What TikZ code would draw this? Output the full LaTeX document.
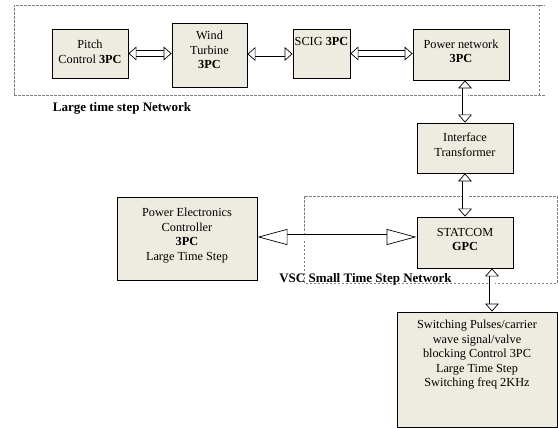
\documentclass[tikz,border=0pt]{standalone}
\usepackage{fontspec}
\setmainfont{Liberation Serif}
\usetikzlibrary{arrows.meta}
\definecolor{boxfill}{HTML}{EEECE1}
\definecolor{dashgray}{HTML}{7F7F7F}
\tikzset{
  blk/.style={draw=black, line width=0.9pt, fill=boxfill, inner sep=0pt},
  txt/.style={align=center, font=\fontsize{12.3}{14.5}\selectfont, inner sep=0pt},
  lbl/.style={font=\fontsize{13}{14}\selectfont\bfseries, inner sep=0pt},
  dsh/.style={draw=dashgray, line width=0.8pt, dash pattern=on 2.5pt off 1.5pt},
  harrow/.style={double=white, draw=black, double distance=5pt, line width=0.7pt,
    {Triangle[fill=white, length=8pt, width=14pt, line width=0.7pt]}-{Triangle[fill=white, length=8pt, width=14pt, line width=0.7pt]}},
  larrow/.style={double=white, draw=black, double distance=5pt, line width=0.7pt,
    {Triangle[fill=white, length=30pt, width=16pt, line width=0.7pt]}-{Triangle[fill=white, length=30pt, width=16pt, line width=0.7pt]}}
}
\begin{document}
\begin{tikzpicture}[x=1pt,y=-1pt]
\useasboundingbox (0,0) rectangle (558,428);
% dashed regions
\draw[dsh] (14,95) -- (14,5) -- (545,5);
\draw[dsh] (14,95) -- (545,95);
\draw[dsh] (539,5) -- (539,95);
\draw[dsh] (304,283) -- (304,196) -- (557,196) -- (557,283) -- cycle;
% boxes
\node[blk, minimum width=76pt, minimum height=49pt] (pitch) at (90,53.5) {};
\node[txt] (pitcht) at (90,52) {Pitch\\Control \textbf{3PC}};
\node[blk, minimum width=75pt, minimum height=64pt] (wind) at (209.5,55) {};
\node[txt] (windt) at (209.5,50) {Wind\\Turbine\\\textbf{3PC}};
\node[blk, minimum width=57pt, minimum height=49pt] (scig) at (321.5,53.5) {};
\node[txt, anchor=north] (scigt) at (321.5,37) {SCIG \textbf{3PC}};
\node[blk, minimum width=96pt, minimum height=51pt] (pw) at (461,54.5) {};
\node[txt] (pwt) at (461,51.5) {Power network\\\textbf{3PC}};
\node[blk, minimum width=96pt, minimum height=50pt] (itf) at (465,148) {};
\node[txt] (itft) at (465,144.5) {Interface\\Transformer};
\node[blk, minimum width=96pt, minimum height=51pt] (stat) at (465,242.5) {};
\node[txt] (statt) at (465,239.5) {STATCOM\\\textbf{GPC}};
\node[blk, minimum width=140pt, minimum height=83pt] (pe) at (187,238.5) {};
\node[txt] (pet) at (187,235.5) {Power Electronics\\Controller\\\textbf{3PC}\\Large Time Step};
\node[blk, minimum width=160pt, minimum height=115pt] (sw) at (477,369.5) {};
\node[txt, anchor=north] (swt) at (477,320) {Switching Pulses/carrier\\wave signal/valve\\blocking Control 3PC\\Large Time Step\\Switching freq 2KHz};
% labels
\node[lbl] (l1) at (122,108) {Large time step Network};
\node[lbl] (l2) at (365.5,279) {VSC Small Time Step Network};
% arrows
\draw[harrow] (pitch.east) -- (wind.west |- pitch.east);
\draw[harrow] ([yshift=1pt]wind.east) -- ([yshift=1pt]wind.east -| scig.west);
\draw[harrow] (scig.east) -- (scig.east -| pw.west);
\draw[harrow] ([xshift=4pt]pw.south) -- ([xshift=4pt]pw.south |- itf.north);
\draw[harrow] (itf.south) -- (stat.north);
\draw[larrow] ([yshift=1.5pt]pe.east) -- ([yshift=1.5pt]pe.east -| stat.west);
\draw[harrow] ([xshift=27pt]stat.south) -- ([xshift=27pt]stat.south |- sw.north);
\end{tikzpicture}
\end{document}
